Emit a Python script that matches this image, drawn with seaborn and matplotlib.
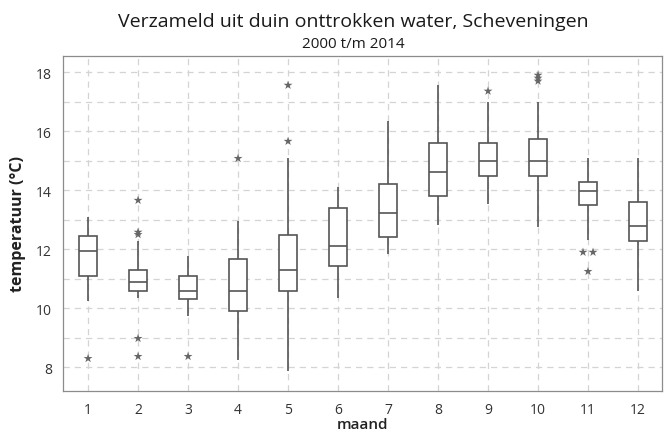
import numpy as np
import pandas as pd
import matplotlib
matplotlib.use("Agg")
import matplotlib.pyplot as plt
from matplotlib.ticker import MultipleLocator
import seaborn as sns

# ---- data ----
months = [1, 2, 3, 4, 5, 6, 7, 8, 9, 10, 11, 12]
lows   = [10.24, 10.34, 9.73, 8.24, 7.86, 10.34, 11.83, 12.81, 13.53, 12.75, 12.30, 10.58]
q1s    = [11.08, 10.58, 10.31, 9.90, 10.58, 11.42, 12.41, 13.80, 14.47, 14.47, 13.49, 12.27]
meds   = [11.93, 10.88, 10.58, 10.58, 11.29, 12.10, 13.22, 14.61, 14.98, 14.98, 13.97, 12.78]
q3s    = [12.44, 11.29, 11.08, 11.66, 12.50, 13.39, 14.20, 15.59, 15.59, 15.73, 14.27, 13.60]
highs  = [13.08, 12.27, 11.76, 12.95, 15.08, 14.10, 16.34, 17.56, 16.98, 16.98, 15.08, 15.08]

out_month = [1, 2, 2, 2, 2, 2, 3, 4, 5, 5, 9, 10, 10, 10, 11, 11, 11]
out_value = [8.30, 13.66, 12.58, 12.50, 8.98, 8.37, 8.37, 15.08, 17.56, 15.66,
             17.36, 17.90, 17.80, 17.70, 11.90, 11.90, 11.25]

title = "Verzameld uit duin onttrokken water, Scheveningen"
subtitle = "2000 t/m 2014"
xlabel = "maand"
ylabel = "temperatuur (°C)"

# ---- build long table: five points per month reproduce the five-number summary ----
rows = []
for m, a, b, c, d, e in zip(months, lows, q1s, meds, q3s, highs):
    for v in (a, b, c, d, e):
        rows.append({"maand": m, "temp": v})
df = pd.DataFrame(rows)

# outliers: spread exact duplicates horizontally like Minitab does
odf = pd.DataFrame({"maand": out_month, "temp": out_value})
odf["rank"] = odf.groupby(["maand", "temp"]).cumcount()
odf["n"] = odf.groupby(["maand", "temp"])["temp"].transform("size")
odf["xpos"] = odf["maand"] + (odf["rank"] - (odf["n"] - 1) / 2) * 0.2

sns.set_theme(style="whitegrid")
plt.rcParams["font.family"] = ["Open Sans", "DejaVu Sans"]

fig = plt.figure(figsize=(6.64, 4.35), dpi=100)
fig.patch.set_facecolor("white")
ax = fig.add_axes([0.095, 0.099, 0.902, 0.770])
ax.set_facecolor("white")

line_col = "#555555"
sns.boxplot(data=df, x="maand", y="temp", native_scale=True, whis=(0, 100),
            showcaps=False, showfliers=False, width=0.36, color="white",
            linecolor=line_col, linewidth=1.2, ax=ax, zorder=3)

sns.scatterplot(data=odf, x="xpos", y="temp", marker="*", s=45, color="#666666",
                edgecolor="none", ax=ax, zorder=4, legend=False)

ax.set_xlim(0.5, 12.48)
ax.set_ylim(7.2, 18.55)
ax.set_xticks(months)
ax.set_xticklabels([str(m) for m in months])
ax.set_yticks([8, 10, 12, 14, 16, 18])
ax.yaxis.set_minor_locator(MultipleLocator(1))

ax.set_axisbelow(True)
ax.grid(False)
ax.grid(True, which="both", axis="y", linestyle=(0, (5, 4)), color="#d4d4d4", linewidth=0.9)
ax.grid(True, which="major", axis="x", linestyle=(0, (5, 4)), color="#d4d4d4", linewidth=0.9)

for s in ax.spines.values():
    s.set_color("#8c8c8c")
    s.set_linewidth(0.9)

ax.tick_params(axis="both", which="major", length=4, width=0.8, color="#8c8c8c",
               labelsize=10, labelcolor="#333333", direction="out", pad=4)
ax.tick_params(axis="y", which="minor", length=0)

ax.set_xlabel(xlabel, fontsize=11, fontweight="semibold", color="#222222", labelpad=0)
ax.set_ylabel(ylabel, fontsize=11.5, fontweight="bold", color="#222222", labelpad=7)

fig.text(0.532, 0.950, title, ha="center", va="center", fontsize=14, color="#1a1a1a")
fig.text(0.532, 0.897, subtitle, ha="center", va="center", fontsize=11, color="#1a1a1a")

fig.savefig("out.png", dpi=100, facecolor=fig.get_facecolor())
